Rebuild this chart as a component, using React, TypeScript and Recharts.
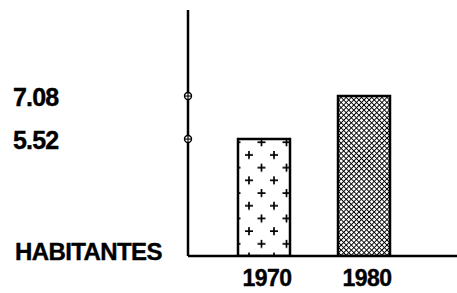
import React from 'react';
import { BarChart, Bar, XAxis, YAxis, Cell, Label } from 'recharts';

const years = ['1970', '1980'];
const habitantes = [5.52, 7.08];
const yTicks = [5.52, 7.08];
const yAxisTitle = 'HABITANTES';
const fills = ['url(#plusPattern)', 'url(#crossPattern)'];

const data = years.map((year, i) => ({ year, value: habitantes[i] }));

const W = 457;
const H = 293;
const Y_AXIS_W = 188;
const FONT = '"Liberation Sans", Arial, sans-serif';

const YTick = (props: any) => {
  const { y, payload } = props;
  const cx = Y_AXIS_W;
  return (
    <g>
      <text x={13} y={y + 10} fontFamily={FONT} fontWeight="bold" fontSize={25} fill="#000" textAnchor="start" letterSpacing={-0.8} stroke="#000" strokeWidth={0.4}>
        {payload.value.toFixed(2)}
      </text>
      <circle cx={cx} cy={y} r={3.5} fill="#fff" stroke="#000" strokeWidth={1.4} />
      <line x1={cx - 3.5} x2={cx + 3.5} y1={y} y2={y} stroke="#000" strokeWidth={1.1} />
      <line x1={cx} x2={cx} y1={y - 3.5} y2={y + 3.5} stroke="#000" strokeWidth={1.1} />
    </g>
  );
};

const XTick = (props: any) => {
  const { x, y, payload } = props;
  return (
    <text x={x + 3} y={y + 22} fontFamily={FONT} fontWeight="bold" fontSize={23} fill="#000" textAnchor="middle" letterSpacing={-0.6} stroke="#000" strokeWidth={0.4}>
      {payload.value}
    </text>
  );
};

const YTitle = (props: any) => {
  const vb = props.viewBox || { x: 0, y: 10, width: Y_AXIS_W, height: 246 };
  return (
    <text x={vb.x + 15} y={vb.y + vb.height + 4} fontFamily={FONT} fontWeight="bold" fontSize={24} fill="#000" textAnchor="start" letterSpacing={-0.6} stroke="#000" strokeWidth={0.4}>
      {yAxisTitle}
    </text>
  );
};

export default function App() {
  return (
    <div style={{ position: 'absolute', left: 0, top: 0, width: W, height: H, background: '#fff' }}>
      <BarChart width={W} height={H} data={data} margin={{ top: 10, right: 0, bottom: 0, left: 0 }}>
        <defs>
          <pattern id="plusPattern" patternUnits="userSpaceOnUse" width={25} height={25.4} x={243} y={149}>
            <rect x={0} y={0} width={25} height={25.4} fill="#fff" />
            <path d="M2,6 H10 M6,2 V10" stroke="#000" strokeWidth={1.7} />
            <path d="M14.5,18.7 H22.5 M18.5,14.7 V22.7" stroke="#000" strokeWidth={1.7} />
          </pattern>
          <pattern id="crossPattern" patternUnits="userSpaceOnUse" width={3.6} height={3.6} patternTransform="rotate(45)">
            <rect x={0} y={0} width={3.6} height={3.6} fill="#fff" />
            <path d="M0,0 H3.6 M0,0 V3.6" stroke="#000" strokeWidth={1.9} />
          </pattern>
        </defs>
        <XAxis
          dataKey="year"
          tickLine={false}
          axisLine={{ stroke: '#000', strokeWidth: 2.5 }}
          padding={{ left: 26, right: 43 }}
          height={37}
          tick={<XTick />}
          interval={0}
        />
        <YAxis
          type="number"
          domain={[1.28, 10.2]}
          ticks={yTicks}
          allowDataOverflow
          tickLine={false}
          axisLine={{ stroke: '#000', strokeWidth: 2.5 }}
          width={Y_AXIS_W}
          tick={<YTick />}
          interval={0}
        >
          <Label content={<YTitle />} />
        </YAxis>
        <Bar dataKey="value" barSize={52} stroke="#000" strokeWidth={2.5} isAnimationActive={false}>
          {data.map((d, i) => (
            <Cell key={d.year} fill={fills[i]} />
          ))}
        </Bar>
      </BarChart>
    </div>
  );
}
